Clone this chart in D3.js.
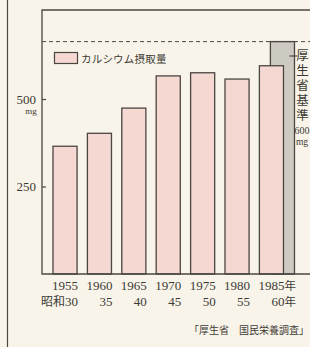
<!DOCTYPE html>
<html>
<head>
<meta charset="utf-8">
<script src="https://cdn.jsdelivr.net/npm/d3@7"></script>
<style>
  body { margin: 0; background: #f8f4ea; }
  svg { display: block; }
</style>
</head>
<body>
<div id="chart"></div>
<script>
// data
const years = ["1955", "1960", "1965", "1970", "1975", "1980", "1985"];
const eraLabels = ["昭和30", "35", "40", "45", "50", "55", "60"];
const intake = [365, 402, 474, 566, 575, 557, 595];
const standardValue = 664;   // drawn height of the grey "standard" bar
const yTicks = [250, 500];

const W = 310, H = 347;
const ink = "#4a4641", textCol = "#3d3a35";
const serif = "'Liberation Serif', 'DejaVu Serif', serif";
const cjk = "'Noto Sans CJK JP', sans-serif";

const svg = d3.select("#chart").append("svg")
    .attr("width", W).attr("height", H);

svg.append("rect").attr("width", W).attr("height", H).attr("fill", "#f8f4ea");

// plot area
const plotLeft = 42, plotTop = 10, plotBottom = 274;
const step = 34.4;

const x = d3.scaleBand()
    .domain(years)
    .range([53, 53 + step * (years.length - 0.3)])
    .paddingInner(0.3).paddingOuter(0);

const y = d3.scaleLinear()
    .domain([0, 500])
    .range([plotBottom, 99]);

// outer page line on the left
svg.append("line").attr("x1", 7.5).attr("x2", 7.5).attr("y1", 0).attr("y2", H)
    .attr("stroke", ink).attr("stroke-width", 1.2);

// grey standard bar, sitting behind the 1985 bar
const stdX = x("1985") + 11;
svg.append("rect")
    .attr("x", stdX).attr("y", y(standardValue))
    .attr("width", x.bandwidth()).attr("height", plotBottom - y(standardValue))
    .attr("fill", "#cdcac1").attr("stroke", ink).attr("stroke-width", 1.3);

// dashed standard line
svg.append("line")
    .attr("x1", plotLeft).attr("x2", W).attr("y1", y(standardValue)).attr("y2", y(standardValue))
    .attr("stroke", ink).attr("stroke-width", 1).attr("stroke-dasharray", "4,3");

// intake bars
svg.selectAll(".bar")
    .data(intake)
    .enter().append("rect")
    .attr("class", "bar")
    .attr("x", (d, i) => x(years[i]))
    .attr("y", d => y(d))
    .attr("width", x.bandwidth())
    .attr("height", d => plotBottom - y(d))
    .attr("fill", "#f5d8d2")
    .attr("stroke", ink).attr("stroke-width", 1.3);

// frame: top, left, bottom
svg.append("path")
    .attr("d", `M${W},${plotTop}H${plotLeft}V${plotBottom}H${W}`)
    .attr("fill", "none").attr("stroke", ink).attr("stroke-width", 1.3);

// y axis ticks (inward)
const yAxis = d3.axisLeft(y).tickValues(yTicks).tickSizeInner(-4).tickSizeOuter(0).tickPadding(6);
const gy = svg.append("g").attr("transform", `translate(${plotLeft},0)`).call(yAxis);
gy.select(".domain").remove();
gy.selectAll("line").attr("stroke", ink).attr("stroke-width", 1.2);
gy.selectAll("text").attr("font-family", serif).attr("font-size", 13).attr("fill", textCol);

svg.append("text").attr("x", 31).attr("y", 114).attr("text-anchor", "middle")
    .attr("font-family", serif).attr("font-size", 9).attr("fill", textCol).text("mg");

// x labels
const xl = svg.append("g");
years.forEach((yr, i) => {
    const cx = x(yr) + x.bandwidth() / 2;
    const era = eraLabels[i];
    if (i === years.length - 1) {
        // last one carries 年 after both rows
        const t1 = xl.append("text").attr("x", cx - 13).attr("y", 290)
            .attr("fill", textCol).attr("font-size", 13);
        t1.append("tspan").attr("font-family", serif).text(yr);
        t1.append("tspan").attr("font-family", cjk).attr("font-size", 11.5).text("年");
        const t2 = xl.append("text").attr("x", cx).attr("y", 306)
            .attr("fill", textCol).attr("font-size", 13);
        t2.append("tspan").attr("font-family", serif).text(era);
        t2.append("tspan").attr("font-family", cjk).attr("font-size", 11.5).text("年");
        return;
    }
    xl.append("text").attr("x", cx).attr("y", 290).attr("text-anchor", "middle")
        .attr("font-family", serif).attr("font-size", 13).attr("fill", textCol).text(yr);
    const t = xl.append("text").attr("x", cx + 13).attr("y", 306).attr("text-anchor", "end")
        .attr("fill", textCol).attr("font-size", 13);
    if (era.startsWith("昭和")) {
        t.append("tspan").attr("font-family", cjk).attr("font-size", 12).text("昭和");
        t.append("tspan").attr("font-family", serif).text(era.slice(2));
    } else {
        t.attr("font-family", serif).text(era);
    }
});

// legend
svg.append("rect").attr("x", 54.5).attr("y", 52.5).attr("width", 23).attr("height", 11)
    .attr("fill", "#f5d8d2").attr("stroke", ink).attr("stroke-width", 1.2);
svg.append("text").attr("x", 81).attr("y", 63)
    .attr("font-family", cjk).attr("font-size", 10.5).attr("letter-spacing", 0.2)
    .attr("fill", textCol).text("カルシウム摂取量");

// vertical label for the standard
svg.append("line").attr("x1", stdX + x.bandwidth() - 5).attr("x2", stdX + x.bandwidth() + 3)
    .attr("y1", 56).attr("y2", 56).attr("stroke", ink).attr("stroke-width", 1.2);
svg.append("text").attr("x", 302.5).attr("y", 49)
    .style("writing-mode", "vertical-rl")
    .attr("font-family", cjk).attr("font-size", 12.5).attr("letter-spacing", 2.4)
    .attr("fill", textCol).text("厚生省基準");
svg.append("text").attr("x", 302).attr("y", 134).attr("text-anchor", "middle")
    .attr("font-family", serif).attr("font-size", 10).attr("fill", textCol).text("600");
svg.append("text").attr("x", 302).attr("y", 145).attr("text-anchor", "middle")
    .attr("font-family", serif).attr("font-size", 9.5).attr("fill", textCol).text("mg");

// source
svg.append("text").attr("x", 309).attr("y", 334).attr("text-anchor", "end")
    .attr("font-family", cjk).attr("font-size", 10).attr("fill", textCol)
    .text("「厚生省　国民栄養調査」");
</script>
</body>
</html>
